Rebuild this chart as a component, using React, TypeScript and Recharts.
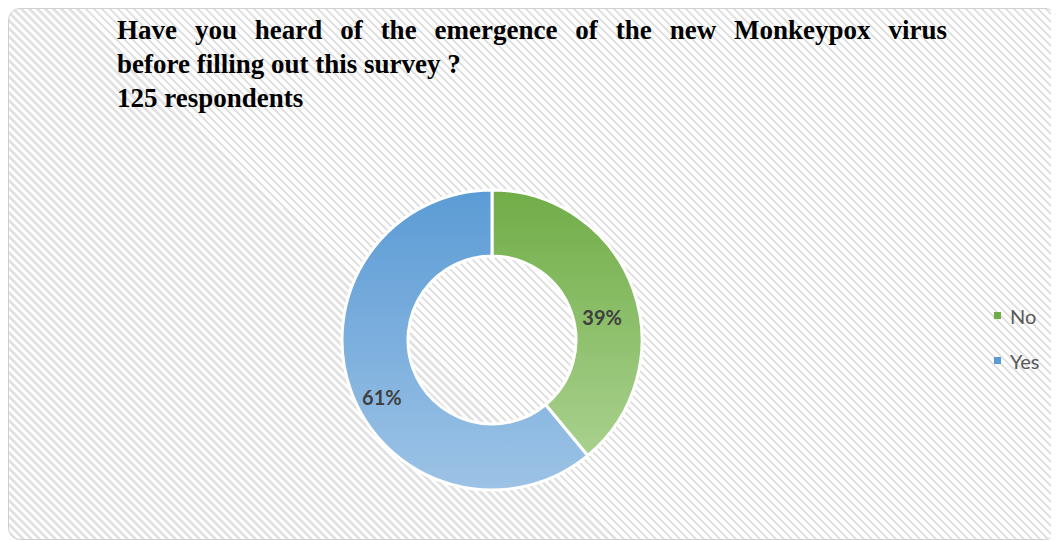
import React from "react";
import { PieChart, Pie, Cell } from "recharts";

const categories = ["No", "Yes"];
const values = [39, 61];
const colorsTop = ["#70ad47", "#5b9bd5"];
const colorsBottom = ["#a9d18e", "#9dc3e6"];
const titleLine1 = "Have you heard of the emergence of the new Monkeypox virus";
const titleLine2 = "before filling out this survey ?";
const titleLine3 = "125 respondents";

const data = categories.map((name, i) => ({ name, value: values[i] }));

const RAD = Math.PI / 180;

const renderLabel = (props: any) => {
  const { cx, cy, midAngle, innerRadius, outerRadius, percent } = props;
  const r = (innerRadius + outerRadius) / 2;
  const x = cx + r * Math.cos(-midAngle * RAD);
  const y = cy + r * Math.sin(-midAngle * RAD) + 17;
  return (
    <text
      x={x}
      y={y}
      textAnchor="middle"
      dominantBaseline="central"
      fill="#404040"
      fontFamily="Lato, 'Open Sans', sans-serif"
      fontWeight="bold"
      fontSize={20}
    >
      {`${Math.round(percent * 100)}%`}
    </text>
  );
};

export default function App() {
  return (
    <div
      style={{
        position: "relative",
        width: 1049,
        height: 532,
        boxSizing: "border-box",
        border: "1px solid #d0d0d0",
        borderRadius: 12,
        background:
          "repeating-linear-gradient(45deg, #ffffff 0px, #ffffff 3.3px, #e2e2e2 3.3px, #e2e2e2 5.66px)",
        overflow: "hidden",
      }}
    >
      <div
        style={{
          position: "absolute",
          left: 108,
          top: 4,
          width: 830,
          fontFamily: "'Liberation Serif', 'Times New Roman', serif",
          fontWeight: "bold",
          fontSize: 27,
          lineHeight: "34px",
          color: "#000",
        }}
      >
        <div style={{ textAlign: "justify", textAlignLast: "justify" }}>{titleLine1}</div>
        <div>{titleLine2}</div>
        <div>{titleLine3}</div>
      </div>
      <div style={{ position: "absolute", left: 0, top: 0 }}>
        <PieChart width={1049} height={532}>
          <defs>
            {categories.map((c, i) => (
              <linearGradient key={c} id={`grad${i}`} x1="0" y1="0" x2="0" y2="1">
                <stop offset="0%" stopColor={colorsTop[i]} />
                <stop offset="100%" stopColor={colorsBottom[i]} />
              </linearGradient>
            ))}
          </defs>
          <Pie
            data={data}
            dataKey="value"
            nameKey="name"
            cx={478}
            cy={326}
            innerRadius={84}
            outerRadius={150}
            startAngle={90}
            endAngle={-270}
            stroke="#ffffff"
            strokeWidth={3}
            label={renderLabel}
            labelLine={false}
            isAnimationActive={false}
          >
            {data.map((d, i) => (
              <Cell key={d.name} fill={`url(#grad${i})`} />
            ))}
          </Pie>
        </PieChart>
      </div>
      <div
        style={{
          position: "absolute",
          left: 985,
          top: 284,
          fontFamily: "Lato, 'Open Sans', sans-serif",
          fontSize: 20,
          color: "#595959",
        }}
      >
        {categories.map((c, i) => (
          <div key={c} style={{ display: "flex", alignItems: "center", height: 45 }}>
            <span
              style={{
                display: "inline-block",
                width: 7,
                height: 7,
                background: colorsTop[i],
                marginRight: 9,
              }}
            />
            <span>{c}</span>
          </div>
        ))}
      </div>
    </div>
  );
}
